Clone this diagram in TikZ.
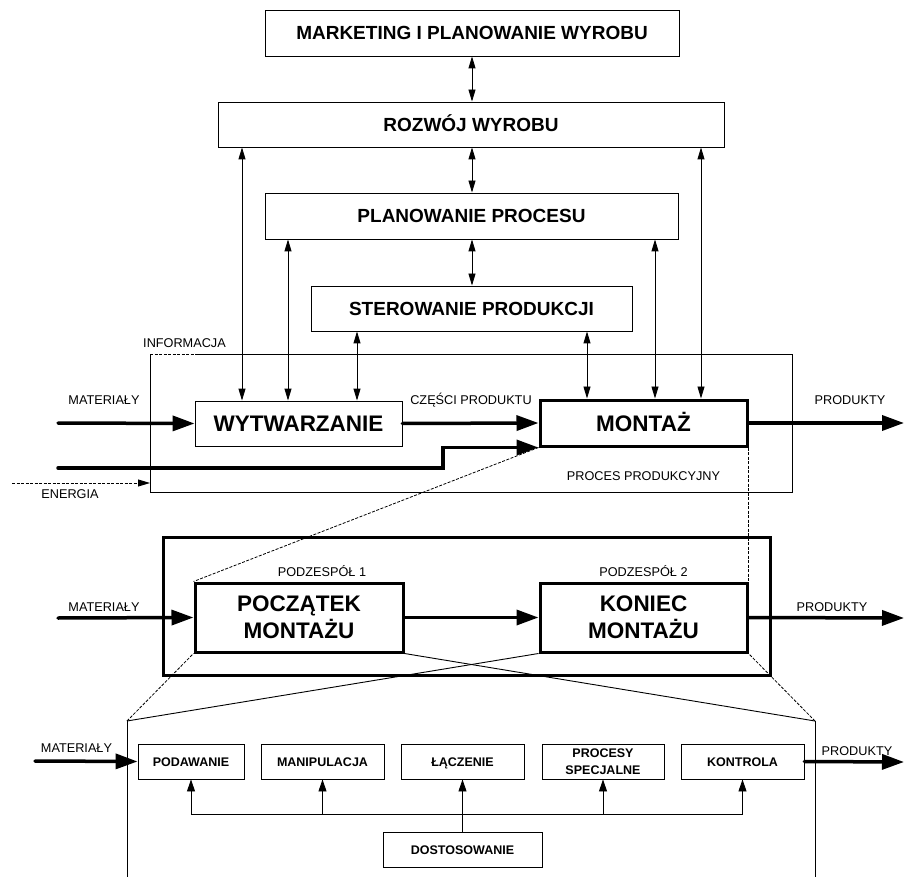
\documentclass[tikz,border=0pt]{standalone}
\usepackage{fontspec}
\setmainfont{Liberation Sans}
\usetikzlibrary{arrows.meta}
\begin{document}
\begin{tikzpicture}[x=1pt,y=-1pt,
  thinline/.style={line width=0.9pt},
  box/.style={draw,thinline,rectangle,inner sep=0pt,align=center},
  heavybox/.style={draw,line width=3pt,rectangle,inner sep=0pt,align=center},
  capsonly/.style={text height=#1,text depth=0pt},
  title/.style={font=\fontsize{19}{22}\selectfont\bfseries,capsonly=13.6pt},
  bigtitle/.style={font=\fontsize{22.5}{27}\selectfont\bfseries},
  bigline/.style={bigtitle,capsonly=16.1pt},
  smalltitle/.style={font=\fontsize{12.5}{16.5}\selectfont\bfseries},
  smallline/.style={smalltitle,capsonly=9pt},
  lbl/.style={font=\fontsize{12.7}{15}\selectfont,inner sep=0pt,capsonly=9.1pt},
  both/.style={thinline,{Triangle[length={12pt 0 0},width={7pt 0 0}]}-{Triangle[length={12pt 0 0},width={7pt 0 0}]}},
  uparrow/.style={thinline,-{Triangle[length={12pt 0 0},width={8pt 0 0}]}},
  flow/.style={line width=3.5pt,line cap=round,-{Triangle[length={22pt 0 0},width={15pt 0 0}]}},
  zoomline/.style={line width=0.8pt,dash pattern=on 3pt off 1.5pt},
]
\useasboundingbox (0,0) rectangle (905,877);

% ---------------- planning levels ----------------
\node[box,title,minimum width=414,minimum height=46] (mkt)  at (472,33)    {MARKETING I PLANOWANIE WYROBU};
\node[box,title,minimum width=506,minimum height=45] (rozw) at (471,124.5) {ROZWÓJ WYROBU};
\node[box,title,minimum width=413,minimum height=46] (plan) at (471.5,216) {PLANOWANIE PROCESU};
\node[box,title,minimum width=321,minimum height=45] (ster) at (471.5,308.5){STEROWANIE PRODUKCJI};

% ---------------- production process ----------------
\node[box,bigline,minimum width=207,minimum height=45] (wyt) at (298.5,423.5) {WYTWARZANIE};
\node[heavybox,bigline,minimum width=207,minimum height=46] (mon) at (643.5,423) {MONTAŻ};

% frame of the production process, information inlet dashed
\coordinate (frTL) at (150,354);
\coordinate (frIn) at (195,354);
\coordinate (frBR) at (792,492);
\draw[thinline] (frIn) -- (frIn -| frBR) -- (frBR) -- (frBR -| frTL) -- (frTL);
\draw[thinline,dash pattern=on 3pt off 1.5pt] (frTL) -- (frIn);

% columns of the information links
\coordinate (cA) at (242,0);
\coordinate (cB) at (288,0);
\coordinate (cC) at (357,0);
\coordinate (cD) at (587,0);
\coordinate (cE) at (655,0);
\coordinate (cF) at (701,0);
\coordinate (cM) at (472,0);

\draw[both] (cM |- mkt.south)  -- (cM |- rozw.north);
\draw[both] (cM |- rozw.south) -- (cM |- plan.north);
\draw[both] (cM |- plan.south) -- (cM |- ster.north);
\draw[both] (cA |- rozw.south) -- (cA |- wyt.north);
\draw[both] (cB |- plan.south) -- (cB |- wyt.north);
\draw[both] (cC |- ster.south) -- (cC |- wyt.north);
\draw[both] (cD |- ster.south) -- (cD |- mon.north);
\draw[both] (cE |- plan.south) -- (cE |- mon.north);
\draw[both] (cF |- rozw.south) -- (cF |- mon.north);

% material flow
\coordinate (matA) at (58,423);
\coordinate (matB) at (58,468);
\coordinate (stp)  at (443,0);
\coordinate (prodA) at (904,423);
\draw[flow] (matA) -- (wyt.west);
\draw[flow] (wyt.east) -- (mon.west);
\draw[flow] (matB) -- (matB -| stp) |- (mon.south west);
\draw[flow] (mon.east) -- (prodA);

% energy
\coordinate (enA) at (12,483);
\draw[thinline,dash pattern=on 3pt off 1.5pt,-{Triangle[length={12pt 0 0},width={7pt 0 0}]}] (enA) -- (enA -| frTL);

\node[lbl] (linf)  at (184.5,343) {INFORMACJA};
\node[lbl] (lmatA) at (104,400)   {MATERIAŁY};
\node[lbl] (lczp)  at (471,400)   {CZĘŚCI PRODUKTU};
\node[lbl] (lprA)  at (850,400)   {PRODUKTY};
\node[lbl] (lene)  at (70,494)    {ENERGIA};
\node[lbl] (lproc) at (643.5,476) {PROCES PRODUKCYJNY};

% ---------------- assembly: subassemblies ----------------
\node[heavybox,minimum width=607,minimum height=138] (sub) at (466.5,606) {};
\node[heavybox,bigtitle,minimum width=208,minimum height=69] (pm) at (299,617.5) {POCZĄTEK\\MONTAŻU};
\node[heavybox,bigtitle,minimum width=207,minimum height=69] (km) at (643.5,617.5) {KONIEC\\MONTAŻU};

\draw[zoomline] (mon.south west) -- (pm.north west);
\draw[zoomline] (mon.south east) -- (km.north east);

\coordinate (matC) at (58,618);
\coordinate (prodB) at (904,618);
\draw[flow] (matC) -- (pm.west);
\draw[flow] (pm.east) -- (km.west);
\draw[flow] (km.east) -- (prodB);

\node[lbl] (lpz1)  at (322,572)   {PODZESPÓŁ 1};
\node[lbl] (lpz2)  at (643.5,572) {PODZESPÓŁ 2};
\node[lbl] (lmatB) at (104,607)   {MATERIAŁY};
\node[lbl] (lprB)  at (832,607)   {PRODUKTY};

% ---------------- assembly: operations ----------------
\coordinate (opTL) at (127,721);
\coordinate (opTR) at (815,721);
\coordinate (opBL) at (127,877);
\coordinate (opBR) at (815,877);
\draw[thinline] (opTL) -- (opBL);
\draw[thinline] (opTR) -- (opBR);
\draw[zoomline] (opTL) -- (pm.south west);
\draw[thinline] (opTL) -- (km.south west);
\draw[zoomline] (opTR) -- (km.south east);
\draw[thinline] (opTR) -- (pm.south east);

\node[box,smallline,minimum width=106,minimum height=35] (pod) at (191,761.5)   {PODAWANIE};
\node[box,smallline,minimum width=123,minimum height=35] (man) at (322.5,761.5) {MANIPULACJA};
\node[box,smallline,minimum width=123,minimum height=35] (lac) at (462.5,761.5) {ŁĄCZENIE};
\node[box,smalltitle,minimum width=122,minimum height=35] (prs) at (603,761.5)  {PROCESY\\SPECJALNE};
\node[box,smallline,minimum width=123,minimum height=35] (kon) at (742.5,761.5) {KONTROLA};
\node[box,smallline,minimum width=159,minimum height=35] (dos) at (462.5,849.5) {DOSTOSOWANIE};

\coordinate (bus) at (0,814);
\draw[thinline] (pod.south |- bus) -- (kon.south |- bus);
\draw[uparrow] (pod.south |- bus) -- (pod.south);
\draw[uparrow] (man.south |- bus) -- (man.south);
\draw[uparrow] (dos.north) -- (lac.south);
\draw[uparrow] (prs.south |- bus) -- (prs.south);
\draw[uparrow] (kon.south |- bus) -- (kon.south);

\coordinate (matD) at (35,761);
\coordinate (prodC) at (904,762);
\draw[flow] (matD) -- (pod.west);
\draw[flow] (kon.east) -- (prodC);

\node[lbl] (lmatC) at (76.5,748) {MATERIAŁY};
\node[lbl] (lprC)  at (857,751)  {PRODUKTY};
\end{tikzpicture}
\end{document}
